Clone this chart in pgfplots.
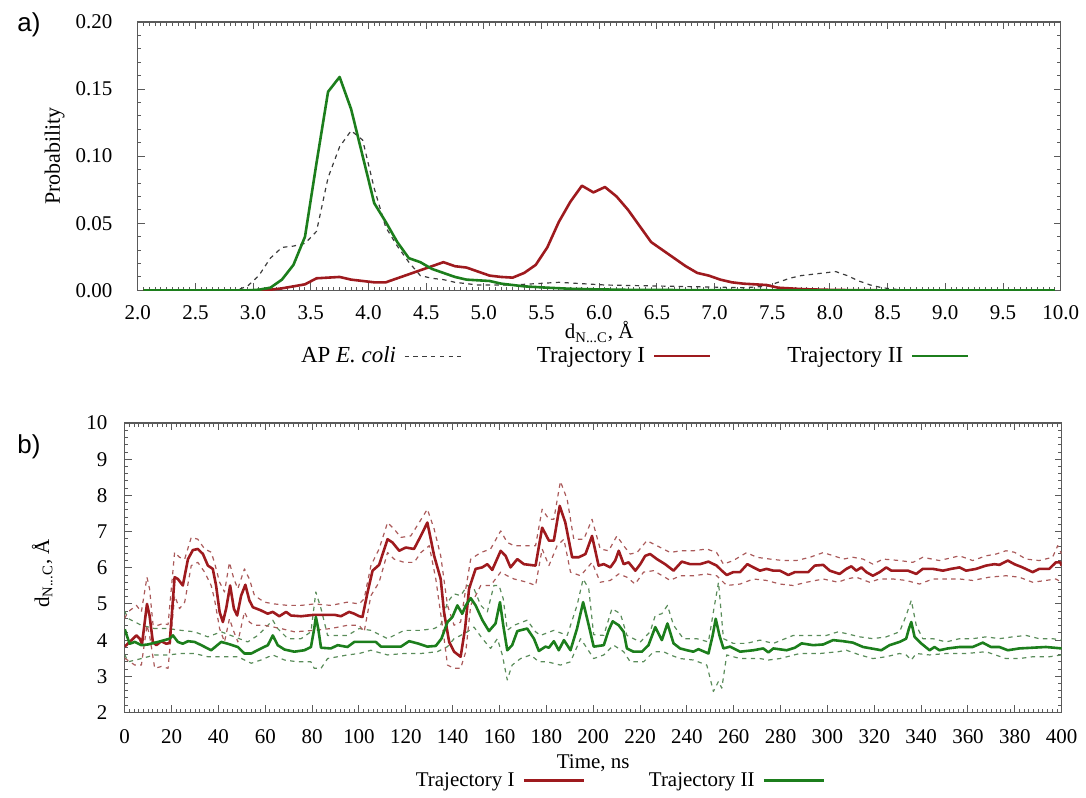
\documentclass[border=0pt]{standalone}
\usepackage{fontspec}
\setmainfont{Liberation Serif}
\newfontfamily\panelfont{Liberation Sans}
\usepackage{pgfplots}
\pgfplotsset{compat=1.18}

\definecolor{trI}{RGB}{158,26,30}
\definecolor{trII}{RGB}{28,126,28}
\definecolor{trIdash}{RGB}{170,90,90}
\definecolor{trIIdash}{RGB}{90,140,90}
\definecolor{apgray}{RGB}{60,60,60}
\definecolor{frame}{RGB}{90,90,90}

\pgfplotsset{
  gp/.style={
    scale only axis,
    axis line style={frame, line width=0.7pt},
    every tick/.style={frame, line width=0.5pt},
    major tick length=3.5pt,
    minor tick length=1.8pt,
    /pgf/number format/assume math mode=true,
    tick label style={font=\rmfamily\fontsize{10.5}{12}\selectfont},
    label style={font=\rmfamily\fontsize{10.5}{12}\selectfont},
    scaled ticks=false,
    legend style={draw=none, fill=none, font=\rmfamily\fontsize{10.5}{12}\selectfont,
      legend columns=-1,
      /tikz/every odd column/.append style={column sep=2pt},
      /tikz/every even column/.append style={column sep=30pt}},
    legend plot pos=right,
    legend cell align=right,
  },
  mainline/.style={line width=1.3pt, line join=round},
  bandline/.style={line width=0.6pt, dash pattern=on 2.2pt off 2.2pt, line join=round},
}

\begin{document}
\fontsize{10.5}{12.6}\selectfont
\begin{tikzpicture}
\path (0pt,0pt) rectangle (543pt,-399pt);
\node[anchor=west, font=\panelfont\fontsize{13}{15}\selectfont] at (5pt,-12.5pt) {a)};
\node[anchor=west, font=\panelfont\fontsize{13}{15}\selectfont] at (5pt,-224pt) {b)};

% ---------- panel a: distance distributions ----------
\begin{axis}[gp,
  at={(69pt,-145.5pt)}, anchor=south west,
  width=462.5pt, height=134.5pt,
  xmin=2, xmax=10, ymin=0, ymax=0.2,
  xtick={2,2.5,3,3.5,4,4.5,5,5.5,6,6.5,7,7.5,8,8.5,9,9.5,10},
  ytick={0,0.05,0.1,0.15,0.2},
  minor x tick num=9, minor y tick num=4,
  x tick label style={/pgf/number format/fixed, /pgf/number format/fixed zerofill, /pgf/number format/precision=1, yshift=-4pt},
  y tick label style={/pgf/number format/fixed, /pgf/number format/fixed zerofill, /pgf/number format/precision=2, xshift=-9pt},
  xlabel={d\textsubscript{N...C}, Å},
  xlabel style={at={(axis description cs:0.5,-0.155)}, anchor=center},
  ylabel={Probability},
  ylabel style={at={(axis description cs:-0.09,0.5)}, anchor=center, font=\rmfamily\fontsize{11}{12}\selectfont},
  legend style={at={(axis description cs:0.537,-0.245)}, anchor=center,
    font=\rmfamily\fontsize{11.5}{13}\selectfont,
    /tikz/every even column/.append style={column sep=36pt}},
  legend image code/.code={\draw[#1] (0pt,0pt) -- (28pt,0pt);},
]
% AP E. coli
\addplot[apgray, line width=0.6pt, dash pattern=on 2.2pt off 2.2pt] coordinates {
  (2.05,0)(2.85,0)(2.95,0.003)(3.05,0.011)(3.15,0.024)(3.25,0.032)(3.35,0.033)
  (3.45,0.035)(3.55,0.044)(3.65,0.084)(3.75,0.107)(3.85,0.119)(3.95,0.112)
  (4.05,0.076)(4.15,0.047)(4.25,0.033)(4.35,0.021)(4.45,0.011)(4.55,0.009)
  (4.65,0.008)(4.75,0.006)(4.85,0.005)(4.95,0.004)(5.05,0.004)(5.25,0.004)
  (5.45,0.005)(5.65,0.006)(5.85,0.005)(6.05,0.004)(6.35,0.0035)(6.65,0.003)
  (6.95,0.0025)(7.25,0.002)(7.45,0.003)(7.55,0.006)(7.65,0.009)(7.75,0.011)
  (7.85,0.012)(7.95,0.013)(8.05,0.014)(8.15,0.011)(8.25,0.007)(8.35,0.004)
  (8.45,0.002)(8.55,0.001)(8.65,0)(9.95,0)
};
\addlegendentry{AP \textit{E. coli}}
% Trajectory I
\addplot[trI, mainline] coordinates {
  (2.05,0)(3.05,0)(3.15,0.0005)(3.25,0.0015)(3.35,0.003)(3.45,0.0045)(3.55,0.009)
  (3.65,0.0095)(3.75,0.010)(3.85,0.008)(3.95,0.007)(4.05,0.006)(4.15,0.006)
  (4.25,0.009)(4.35,0.012)(4.45,0.015)(4.55,0.018)(4.65,0.021)(4.75,0.018)
  (4.85,0.017)(4.95,0.014)(5.05,0.011)(5.15,0.010)(5.25,0.0095)(5.35,0.013)
  (5.45,0.019)(5.55,0.032)(5.65,0.051)(5.75,0.066)(5.85,0.078)(5.95,0.073)
  (6.05,0.077)(6.15,0.070)(6.25,0.060)(6.35,0.048)(6.45,0.036)(6.55,0.030)
  (6.65,0.024)(6.75,0.018)(6.85,0.013)(6.95,0.011)(7.05,0.008)(7.15,0.006)
  (7.25,0.005)(7.35,0.0045)(7.45,0.004)(7.55,0.002)(7.65,0.0015)(7.75,0.001)
  (7.85,0.0007)(8.05,0.0003)(8.5,0)(9.95,0)
};
\addlegendentry{Trajectory I}
% Trajectory II
\addplot[trII, mainline] coordinates {
  (2.05,0)(2.95,0)(3.05,0.0005)(3.15,0.002)(3.25,0.008)(3.35,0.019)(3.45,0.040)
  (3.55,0.095)(3.65,0.148)(3.75,0.159)(3.85,0.135)(3.95,0.100)(4.05,0.065)
  (4.15,0.051)(4.25,0.036)(4.35,0.024)(4.45,0.021)(4.55,0.016)(4.65,0.013)
  (4.75,0.010)(4.85,0.008)(4.95,0.0075)(5.05,0.007)(5.15,0.005)(5.25,0.004)
  (5.35,0.003)(5.45,0.0025)(5.55,0.002)(5.75,0.0012)(5.95,0.0008)(6.25,0.0004)
  (6.75,0.0002)(7.25,0.0001)(7.75,0)(9.95,0)
};
\addlegendentry{Trajectory II}
\end{axis}

% ---------- panel b: time series ----------
\begin{axis}[gp,
  at={(62.5pt,-357pt)}, anchor=south west,
  width=469.5pt, height=145pt,
  xmin=0, xmax=400, ymin=2, ymax=10,
  xtick={0,20,...,400}, ytick={2,3,...,10},
  minor x tick num=9, minor y tick num=4,
  x tick label style={yshift=-5pt},
  y tick label style={xshift=-5pt},
  xlabel={Time, ns},
  xlabel style={at={(axis description cs:0.5,-0.176)}, anchor=center},
  ylabel={d\textsubscript{N...C}, Å},
  ylabel style={at={(axis description cs:-0.088,0.48)}, anchor=center},
  legend style={at={(axis description cs:0.527,-0.236)}, anchor=center},
  legend image code/.code={\draw[#1] (0pt,0pt) -- (30pt,0pt);},
]
% Trajectory II band
\addplot[trIIdash, bandline, forget plot] coordinates {
  (0,4.8)(1.4,4.60)(7.1,4.41)(12.8,4.32)(18.5,4.32)(24.1,4.27)(29.8,4.23)(35.5,4.09)
  (41.2,4.23)(46.9,4.09)(52.5,3.95)(56.8,4.13)(61.1,4.41)(63.2,4.55)(65.3,4.32)
  (69.6,4.04)(75.3,4.04)(79.5,4.23)(81.6,5.33)(83.8,4.87)(86.6,4.13)(95.1,4.13)
  (100.1,4.32)(105.1,4.27)(112.2,4.04)(119.3,4.27)(126.4,4.27)(132.1,4.32)(134.9,4.41)
  (137.8,5.05)(140.6,5.28)(143.4,5.23)(146.3,5.51)(149.1,5.42)(152.0,4.96)(154.8,4.78)
  (157.6,5.51)(159.8,5.51)(161.6,5.14)(163.3,4.27)(166.2,4.41)(171.8,4.55)(175.4,4.23)
  (177.5,4.13)(183.2,4.27)(188.9,4.13)(193.1,4.96)(195.7,5.69)(198.1,5.42)(200.2,4.15)
  (204.5,4.13)(208.0,4.87)(211.6,4.73)(214.4,4.13)(220.1,3.95)(224.3,4.23)(226.5,4.68)
  (229.3,4.73)(231.7,4.96)(234.3,4.41)(238.5,4.04)(244.2,4.04)(249.2,3.95)(251.3,4.78)
  (253.5,5.60)(255.6,4.04)(259.8,3.91)(265.5,3.91)(271.2,4.00)(276.9,3.91)(285.4,4.13)
  (292.5,4.13)(299.6,4.13)(304.6,4.23)(308.1,4.18)(313.8,4.09)(319.4,4.04)(325.1,4.09)
  (330.8,4.23)(333.6,4.68)(335.8,5.10)(337.9,4.41)(340.7,4.04)(345.0,4.04)(350.7,3.95)
  (356.4,4.04)(362.0,4.04)(367.7,4.09)(373.4,4.04)(379.1,4.09)(384.8,4.13)(390.4,4.04)
  (396.1,4.04)(400,4.00)
};
\addplot[trIIdash, bandline, forget plot] coordinates {
  (0,3.6)(1.4,3.40)(7.1,3.49)(12.8,3.59)(18.5,3.59)(24.1,3.63)(29.8,3.63)(35.5,3.54)
  (41.2,3.54)(48.3,3.54)(54.0,3.36)(58.2,3.45)(63.2,3.59)(68.2,3.45)(73.8,3.40)
  (79.5,3.40)(80.9,3.22)(83.8,3.22)(86.6,3.49)(95.1,3.59)(100.1,3.63)(105.1,3.72)
  (112.2,3.59)(119.3,3.63)(126.4,3.63)(133.5,3.68)(137.8,3.82)(140.6,4.04)(143.4,4.13)
  (146.3,4.23)(149.1,4.36)(152.7,4.04)(156.2,3.77)(159.1,4.04)(161.2,3.59)(163.3,2.90)
  (165.4,3.31)(169.0,3.49)(173.3,3.59)(176.8,3.40)(180.4,3.40)(186.0,3.31)(190.3,3.40)
  (194.6,4.04)(197.4,3.77)(200.2,3.49)(204.5,3.59)(208.7,3.86)(213.0,3.68)(215.8,3.40)
  (221.5,3.40)(225.8,3.68)(230.0,3.68)(232.9,3.59)(237.1,3.49)(242.8,3.45)(248.5,3.31)
  (249.9,2.95)(251.3,2.58)(253.5,2.86)(254.9,2.67)(257.0,3.59)(262.7,3.49)(271.2,3.49)
  (274.8,3.45)(279.7,3.49)(288.2,3.63)(296.8,3.63)(304.6,3.68)(308.1,3.72)(313.8,3.59)
  (319.4,3.49)(325.1,3.54)(330.8,3.63)(333.6,3.59)(335.8,3.45)(337.9,3.63)(343.6,3.59)
  (350.7,3.63)(359.2,3.63)(367.7,3.68)(376.2,3.49)(381.9,3.49)(387.6,3.54)(394.7,3.54)
  (400,3.59)
};
% Trajectory I band
\addplot[trIdash, bandline, forget plot] coordinates {
  (0,4.6)(1.4,4.78)(5.0,4.96)(7.1,4.78)(9.5,5.74)(10.6,5.42)(12.1,4.41)(14.2,4.41)
  (16.3,4.46)(18.5,4.43)(21.3,6.43)(23.4,6.29)(25.6,6.24)(28.4,6.84)(31.2,6.79)
  (34.1,6.52)(36.9,6.43)(38.3,6.15)(40.5,5.60)(42.6,5.33)(44.7,6.15)(46.6,5.69)
  (48.3,5.42)(51.1,5.97)(53.2,5.69)(55.4,5.23)(59.6,5.05)(63.9,5.00)(69.6,4.96)
  (75.3,4.96)(80.9,5.00)(88.0,4.96)(95.1,5.05)(100.1,5.00)(102.2,5.14)(105.1,6.06)
  (108.6,6.52)(112.2,7.25)(115.0,7.07)(117.9,6.84)(122.1,6.88)(125.7,7.25)(129.2,7.62)
  (132.1,7.07)(134.9,6.33)(137.8,4.96)(140.6,4.41)(143.4,4.50)(145.6,5.42)(147.7,6.24)
  (152.0,6.42)(156.2,6.52)(160.5,7.02)(163.3,6.70)(166.2,6.61)(170.4,6.61)(175.4,6.61)
  (178.2,7.62)(181.1,7.34)(183.2,7.34)(186.0,8.39)(188.9,7.89)(191.7,6.79)(196.0,6.79)
  (199.5,7.34)(203.0,6.52)(206.6,6.47)(210.1,6.88)(213.0,6.61)(215.8,6.38)(218.7,6.42)
  (222.9,6.75)(227.2,6.61)(232.9,6.42)(237.1,6.47)(242.8,6.47)(248.5,6.52)(252.7,6.42)
  (255.6,6.10)(259.8,6.20)(265.5,6.42)(269.8,6.29)(275.5,6.24)(281.1,6.20)(286.8,6.20)
  (292.5,6.29)(298.2,6.42)(304.6,6.29)(306.7,6.24)(310.9,6.29)(315.2,6.24)(319.4,6.10)
  (323.7,6.24)(330.8,6.20)(336.5,6.15)(340.7,6.29)(347.8,6.20)(356.4,6.33)(362.0,6.20)
  (367.7,6.33)(372.0,6.38)(376.2,6.47)(379.8,6.43)(384.8,6.24)(390.4,6.20)(396.1,6.29)
  (398.3,6.61)(400,6.38)
};
\addplot[trIdash, bandline, forget plot] coordinates {
  (0,3.5)(4.3,3.31)(7.1,3.31)(9.5,4.41)(10.6,4.13)(12.8,3.22)(15.6,3.27)(18.5,3.22)
  (21.3,5.23)(23.4,4.87)(25.6,5.05)(28.4,6.06)(31.2,6.15)(34.1,5.88)(36.9,5.51)
  (38.3,5.14)(40.5,4.32)(42.6,3.95)(44.7,4.59)(46.6,4.23)(48.3,3.95)(51.1,4.78)
  (53.2,4.50)(55.4,4.41)(59.6,4.41)(66.7,4.32)(72.4,4.23)(80.9,4.27)(88.0,4.32)
  (95.1,4.41)(100.1,4.41)(102.2,4.23)(105.1,5.23)(108.6,5.60)(112.2,6.42)(115.0,6.24)
  (119.3,6.15)(123.6,6.15)(126.4,6.42)(130.0,6.61)(132.8,5.69)(135.6,4.41)(137.8,3.31)
  (140.6,3.22)(143.4,3.22)(145.6,3.68)(147.7,4.96)(152.0,5.51)(156.2,5.51)(160.5,5.88)
  (163.3,5.78)(166.2,5.69)(171.8,5.60)(175.4,5.51)(178.2,6.52)(181.1,6.06)(184.6,6.61)
  (187.5,6.79)(190.3,5.88)(194.6,5.78)(199.5,6.15)(203.0,5.60)(207.3,5.65)(210.9,5.83)
  (214.4,5.74)(217.9,5.55)(221.5,5.88)(225.8,5.92)(232.9,5.65)(237.1,5.78)(242.8,5.78)
  (248.5,5.83)(252.7,5.78)(257.0,5.51)(262.7,5.55)(268.4,5.69)(274.0,5.65)(279.7,5.55)
  (285.4,5.51)(291.1,5.60)(298.2,5.69)(304.6,5.60)(308.1,5.69)(312.3,5.74)(318.0,5.60)
  (322.3,5.69)(328.0,5.69)(333.6,5.65)(339.3,5.55)(345.0,5.69)(350.7,5.69)(356.4,5.69)
  (362.0,5.65)(369.1,5.74)(376.2,5.78)(381.9,5.74)(387.6,5.60)(393.3,5.65)(397.5,5.69)
  (400,5.60)
};
% Trajectory I mean
\addplot[trI, mainline] coordinates {
  (0,3.82)(2.1,3.95)(5.0,4.13)(6.4,4.04)(7.4,3.90)(9.5,5.00)(10.6,4.68)(12.0,3.95)
  (13.5,3.86)(15.6,3.97)(17.7,3.90)(19.2,3.92)(21.3,5.74)(22.7,5.69)(24.8,5.51)
  (27.0,6.24)(29.1,6.49)(31.2,6.52)(33.4,6.38)(35.5,6.06)(37.6,5.97)(39.0,5.51)
  (40.5,4.78)(41.9,4.50)(43.3,4.87)(45.0,5.51)(46.6,4.87)(48.0,4.68)(49.7,5.23)
  (51.5,5.53)(53.2,5.10)(54.7,4.91)(58.2,4.82)(61.0,4.73)(63.2,4.78)(66.0,4.66)
  (68.9,4.78)(71.0,4.68)(75.3,4.66)(78.1,4.68)(81.0,4.70)(85.2,4.70)(89.5,4.70)
  (92.3,4.66)(95.8,4.78)(98.0,4.73)(100.1,4.66)(101.5,4.64)(103.7,5.33)(105.8,5.92)
  (108.6,6.08)(112.2,6.79)(114.3,6.70)(117.2,6.47)(120.0,6.56)(123.5,6.52)(126.4,6.88)
  (129.2,7.25)(132.1,6.33)(134.9,5.69)(136.3,4.78)(138.5,3.95)(140.6,3.68)(143.4,3.54)
  (145.3,4.32)(147.0,5.42)(149.8,5.97)(152.6,6.01)(154.8,6.10)(156.9,5.94)(160.5,6.47)
  (162.6,6.33)(164.7,6.01)(167.6,6.24)(170.4,6.10)(175.4,6.06)(178.2,7.11)(181.1,6.75)
  (183.2,6.75)(185.7,7.71)(188.1,7.25)(191.0,6.29)(193.8,6.29)(196.7,6.38)(199.5,6.88)
  (202.3,6.06)(204.5,6.10)(207.3,6.01)(209.4,6.20)(210.9,6.47)(213.0,6.10)(215.1,6.15)
  (218.0,5.92)(220.1,6.10)(222.2,6.33)(224.3,6.38)(227.2,6.24)(230.7,6.10)(234.3,5.92)
  (237.8,6.17)(241.4,6.10)(245.6,6.10)(249.2,6.17)(252.7,6.06)(254.9,5.92)(257.0,5.80)
  (259.8,5.88)(262.7,5.88)(265.8,6.10)(268.4,6.01)(271.2,5.92)(274.0,5.97)(276.9,5.92)
  (279.7,5.92)(283.3,5.80)(286.1,5.88)(289.7,5.88)(291.8,5.88)(294.6,6.06)(298.2,6.08)
  (301.0,5.92)(305.2,5.83)(308.1,5.97)(310.2,6.04)(312.3,5.92)(314.5,6.01)(316.6,5.88)
  (319.4,5.78)(322.3,5.88)(325.1,6.01)(327.3,5.92)(330.8,5.92)(334.4,5.92)(337.9,5.83)
  (340.7,5.97)(345.0,5.97)(349.3,5.92)(352.8,5.97)(356.4,6.01)(359.2,5.92)(363.5,5.97)
  (367.7,6.06)(371.3,6.10)(373.4,6.08)(377.0,6.20)(379.8,6.10)(383.3,6.01)(387.6,5.88)
  (390.4,5.97)(394.7,5.97)(397.5,6.15)(399.4,6.15)(400,6.06)
};
\addlegendentry{Trajectory I}
% Trajectory II mean
\addplot[trII, mainline] coordinates {
  (0,4.30)(2.1,3.90)(4.3,3.95)(7.1,3.86)(9.9,3.88)(14.2,3.95)(17.0,4.00)(19.2,4.04)
  (20.6,4.13)(22.7,3.95)(24.8,3.90)(27.0,3.97)(29.8,3.95)(32.7,3.86)(36.9,3.72)
  (41.2,3.95)(44.0,3.90)(48.3,3.81)(51.1,3.63)(54.0,3.63)(58.2,3.77)(61.1,3.86)
  (63.2,4.13)(65.3,3.86)(68.2,3.74)(72.4,3.68)(76.7,3.72)(79.5,3.81)(80.9,4.32)
  (81.6,4.64)(82.6,4.32)(83.8,3.79)(88.0,3.77)(90.9,3.86)(95.1,3.81)(98.0,3.95)
  (102.3,3.95)(107.2,3.95)(109.4,3.82)(113.6,3.82)(117.9,3.82)(121.4,3.97)(125.0,3.91)
  (129.2,3.82)(132.8,3.84)(135.2,4.04)(137.8,4.50)(139.9,4.64)(142.0,4.96)(144.1,4.73)
  (145.6,4.96)(147.7,5.16)(149.8,4.96)(152.7,4.55)(155.5,4.25)(158.3,4.46)(160.2,5.05)
  (161.6,4.41)(163.3,3.72)(165.4,3.86)(167.6,4.25)(171.8,4.32)(174.7,4.04)(176.8,3.70)
  (179.6,3.82)(181.1,3.79)(183.2,3.97)(185.3,3.72)(187.5,4.00)(190.3,3.72)(193.1,4.32)
  (195.7,5.05)(198.1,4.41)(200.2,3.82)(202.4,3.84)(204.5,3.86)(206.6,4.27)(208.3,4.52)
  (210.9,4.41)(213.0,4.23)(214.4,3.77)(217.2,3.68)(220.8,3.68)(223.6,3.86)(226.5,4.36)
  (229.3,4.00)(231.7,4.46)(234.3,3.91)(237.1,3.77)(240.0,3.72)(242.8,3.68)(244.9,3.75)
  (249.2,3.63)(251.0,4.13)(252.3,4.59)(253.9,4.13)(255.6,3.77)(258.4,3.82)(262.7,3.68)
  (268.4,3.72)(272.6,3.77)(274.8,3.66)(276.9,3.77)(282.6,3.72)(286.1,3.79)(289.0,3.91)
  (293.9,3.86)(298.2,3.88)(302.4,4.00)(306.7,3.97)(310.9,3.93)(315.2,3.81)(318.7,3.77)
  (323.0,3.72)(326.5,3.86)(330.8,3.95)(333.6,4.04)(334.8,4.32)(335.8,4.50)(337.2,4.09)
  (340.0,3.91)(343.6,3.72)(345.7,3.81)(347.8,3.72)(351.4,3.77)(356.4,3.81)(362.0,3.81)
  (366.3,3.93)(369.8,3.81)(373.4,3.81)(377.0,3.72)(381.9,3.77)(387.6,3.79)(393.3,3.81)
  (400,3.77)
};
\addlegendentry{Trajectory II}
\end{axis}
\end{tikzpicture}
\end{document}
